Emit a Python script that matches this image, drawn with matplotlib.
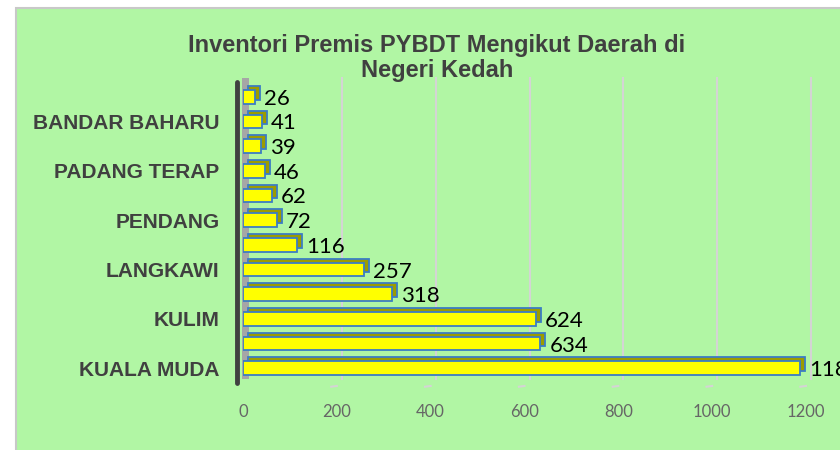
import numpy as np
import matplotlib.pyplot as plt
import matplotlib.transforms as mtrans
from matplotlib.patches import Rectangle

# districts listed from bottom bar to top bar
districts = ['KUALA MUDA', 'KOTA SETAR', 'KULIM', 'KUBANG PASU', 'LANGKAWI', 'BALING',
             'PENDANG', 'YAN', 'PADANG TERAP', 'SIK', 'BANDAR BAHARU', 'POKOK SENA']
premis = [1187, 634, 624, 318, 257, 116, 72, 62, 46, 39, 41, 26]
xticks = [0, 200, 400, 600, 800, 1000, 1200]

bg = '#b1f6a4'
fig = plt.figure(figsize=(8.4, 4.5), dpi=100)
fig.patch.set_facecolor('white')
fig.patches.append(Rectangle((16/840, -0.1), 1.2, 1 - 8/450 + 0.1, transform=fig.transFigure,
                             facecolor=bg, edgecolor='#c8c8c8', lw=1.5, zorder=-5))

ax = fig.add_axes([243/840, 67/450, 563/840, 301/450])
ax.set_facecolor('none')
y = np.arange(len(premis))

# depth offset for the pseudo 3D look
dx, dy = 5, 4
back = mtrans.offset_copy(ax.transData, fig=fig, x=dx, y=dy, units='dots')

# back wall grid lines
for t in xticks[1:]:
    ax.plot([t, t], [-0.6, 11.6], transform=back, color='#d4d4d4', lw=1.5, zorder=0, clip_on=False)
    ax.plot([t, t - 12], [-0.6 - 0.12, -0.75], color='#d4d4d4', lw=1.5, zorder=0, clip_on=False)
# left wall
ax.add_patch(Rectangle((-12, -0.6), 14, 12.2, transform=back, facecolor='#a6a6a6',
                       edgecolor='none', zorder=0.5, clip_on=False))
ax.plot([-12, -12], [-0.6, 11.6], color='#404040', lw=3.5, zorder=1, clip_on=False,
        solid_capstyle='round')

ax.barh(y, premis, height=0.55, left=0, color='#9c9c00', edgecolor='#3b7dc4', lw=1.3,
        transform=back, zorder=2)
ax.barh(y, premis, height=0.55, color='#ffff00', edgecolor='#3b7dc4', lw=1.3, zorder=3)

for yi, v in zip(y, premis):
    ax.annotate(str(v), (v, yi), xytext=(dx + 4, -2), textcoords='offset pixels',
                ha='left', va='center', fontsize=16, family='Lato', color='black',
                annotation_clip=False)

ax.set_xlim(0, 1200)
ax.set_ylim(-0.6, 11.6)
ax.set_xticks(xticks)
ax.set_xticklabels([str(t) for t in xticks], family='Lato', fontsize=12, color='#666666')
ax.set_yticks(y[::2])
ax.set_yticklabels(districts[::2], family='Liberation Sans', fontweight='bold',
                   fontsize=15, color='#404040')
ax.tick_params(axis='x', length=0, pad=15)
ax.tick_params(axis='y', length=0, pad=17)
for s in ax.spines.values():
    s.set_visible(False)

fig.text(437/840, 1 - 58/450, 'Inventori Premis PYBDT Mengikut Daerah di\nNegeri Kedah',
         ha='center', va='center', fontsize=17, fontweight='bold', family='Liberation Sans',
         color='#404040', linespacing=1.1)

fig.savefig('out.png', dpi=100)
